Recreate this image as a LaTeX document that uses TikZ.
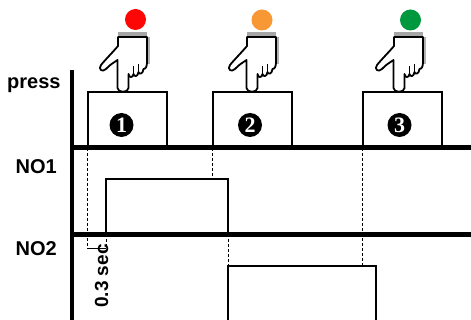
\documentclass[tikz,border=0pt]{standalone}
\usepackage{fontspec}
\setmainfont{Liberation Sans}
\newfontfamily\numfont{Liberation Serif}
\usetikzlibrary{positioning}
\definecolor{btnred}{RGB}{252,6,6}
\definecolor{btnorange}{RGB}{247,152,52}
\definecolor{btngreen}{RGB}{0,152,62}

\tikzset{
	pics/hand/.style={code={
		\fill[gray!70] (-5,-60) rectangle (24,-55);
		\draw[gray!60, line width=2pt] (26,-55) -- (26,-28);
		\draw[line width=1.8pt, fill=white, line join=round]
			(-5,-55) -- (-5,-46) .. controls (-10,-40) and (-18,-32) .. (-22,-27)
			.. controls (-25,-23) and (-21,-19) .. (-17,-23)
			.. controls (-13,-27) .. (-5.5,-32) -- (-5.5,-4)
			.. controls (-5.5,1) and (5.5,1) .. (5.5,-4) -- (5.5,-18)
			.. controls (6,-14) and (10,-14) .. (10.5,-18)
			.. controls (11,-15) and (15,-15) .. (15.5,-20)
			.. controls (16,-17) and (20,-18) .. (20.5,-23)
			.. controls (23,-23) and (24,-26) .. (24,-30) -- (24,-55) -- cycle;
		\draw[line width=1.2pt] (10.5,-18) -- (10.5,-26) (15.5,-20) -- (15.5,-28);
	}}
}

\begin{document}
\begin{tikzpicture}[x=1pt, y=-1pt,
					lbl/.style={inner sep=0pt, font=\fontsize{20}{24}\selectfont\bfseries},
					pressbox/.style={draw, line width=2pt, minimum width=79pt, minimum height=55pt, inner sep=0pt},
					numdot/.style={circle, fill=black, minimum size=24pt, inner sep=0pt, text=white, font=\numfont\fontsize{22}{22}\selectfont\bfseries},
					btn/.style={circle, minimum size=21pt, inner sep=0pt},
					axisline/.style={line width=4.5pt},
					pulse/.style={line width=2.5pt, line join=miter},
					guide/.style={line width=0.8pt, dash pattern=on 3pt off 2pt}]
	\useasboundingbox (0,0) rectangle (471,320);
	% press row
	\node[pressbox] (b1) at (127.5,119.5) {};
	\node[pressbox] (b2) at (252.5,119.5) {};
	\node[pressbox] (b3) at (402.5,119.5) {};
	\node[numdot] (n1) at ([xshift=-6pt,yshift=-5.5pt]b1.center) {1};
	\node[numdot] (n2) at ([xshift=-2.5pt,yshift=-5.5pt]b2.center) {2};
	\node[numdot] (n3) at ([xshift=-3pt,yshift=-5.5pt]b3.center) {3};
	\pic at (123,92) {hand};
	\pic at (252,92) {hand};
	\pic at (399,92) {hand};
	\node[btn, fill=btnred] (c1) at (135.5,19.5) {};
	\node[btn, fill=btnorange] (c2) at (262,20) {};
	\node[btn, fill=btngreen] (c3) at (410.5,20) {};
	% axes
	\coordinate (top) at (72,70);
	\coordinate (bot) at (72,320);
	\coordinate (r1) at (72,147.5);
	\coordinate (r1e) at (471,147.5);
	\coordinate (r2) at (72,234.5);
	\coordinate (r2e) at (471,234.5);
	\draw[axisline] (top) -- (bot);
	\draw[axisline] (r1) -- (r1e);
	\draw[axisline] (r2) -- (r2e);
	% outputs
	\coordinate (p1a) at (106,234.5);
	\coordinate (p1b) at (106,179);
	\coordinate (p1c) at (228,179);
	\coordinate (p1d) at (228,234.5);
	\coordinate (p2a) at (228,322);
	\coordinate (p2b) at (228,266);
	\coordinate (p2c) at (376,266);
	\coordinate (p2d) at (376,322);
	\coordinate (tk) at (0,248);
	\draw[pulse] (p1a) -- (p1b) -- (p1c) -- (p1d);
	\draw[pulse] (p2a) -- (p2b) -- (p2c) -- (p2d);
	\draw[guide] (b1.south west) -- (b1.south west |- tk);
	\draw[guide] (p1a) -- (p1a |- tk);
	\draw[guide] (b2.south west) -- (b2.south west |- p1b);
	\draw[guide] (p1d) -- (p2b);
	\draw[guide] (b3.south west) -- (b3.south west |- p2b);
	\draw[line width=0.8pt] (b1.south west |- tk) -- (p1a |- tk);
	% labels
	\node[lbl, anchor=base west] (press) at (7,89) {press};
	\node[lbl, anchor=base west] (no1) at (15.5,174) {NO1};
	\node[lbl, anchor=base west] (no2) at (15.5,256) {NO2};
	\node[inner sep=0pt, anchor=base, rotate=90, font=\fontsize{19}{19}\selectfont\bfseries] (dly) at (108,276) {0.3 sec};
\end{tikzpicture}
\end{document}
